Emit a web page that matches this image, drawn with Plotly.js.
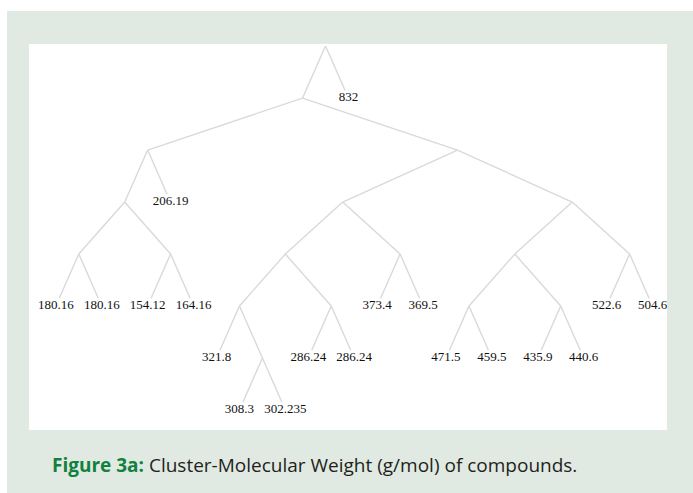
<!DOCTYPE html>
<html>
<head>
<meta charset="utf-8">
<script src="https://cdn.plot.ly/plotly-3.0.1.min.js"></script>
<style>
  html, body { margin: 0; padding: 0; background: #ffffff; }
  #wrap { position: absolute; left: 7px; top: 11px; width: 686px; height: 482px; }
</style>
</head>
<body>
<div id="wrap"></div>
<script>
// cluster tree: each node lists its parent, children appear in the order given (left to right)
var nodeIds =     ['root', 'A', 'w832', 'B', 'P', 'C', 'w206', 'D', 'E', 'a1', 'a2', 'e1', 'e2',
                   'J', 'O', 'H', 'I', 'K', 'G', 'k1', 'F', 'f1', 'f2', 'g1', 'g2', 'i1', 'i2',
                   'M', 'N', 'Q', 'R', 'q1', 'q2', 'r1', 'r2', 'n1', 'n2'];
var nodeParents = ['', 'root', 'root', 'A', 'A', 'B', 'B', 'C', 'C', 'D', 'D', 'E', 'E',
                   'P', 'P', 'J', 'J', 'H', 'H', 'K', 'K', 'F', 'F', 'G', 'G', 'I', 'I',
                   'O', 'O', 'M', 'M', 'Q', 'Q', 'R', 'R', 'N', 'N'];
// molecular weight (g/mol) shown at the leaves, '' for inner cluster nodes
var nodeLabels =  ['', '', '832', '', '', '', '206.19', '', '', '180.16', '180.16', '154.12', '164.16',
                   '', '', '', '', '', '', '321.8', '', '308.3', '302.235', '286.24', '286.24', '373.4', '369.5',
                   '', '', '', '', '471.5', '459.5', '435.9', '440.6', '522.6', '504.6'];

var children = {};
nodeIds.forEach(function (id) { children[id] = []; });
nodeIds.forEach(function (id, i) { if (nodeParents[i]) children[nodeParents[i]].push(id); });

// tidy tree layout (unit spacing between neighbours on a level)
var rel = {};
function tidy(id) {
  var kids = children[id];
  if (!kids.length) return { l: [0], r: [0] };
  var accL = null, accR = null, offs = [];
  kids.forEach(function (k) {
    var c = tidy(k);
    if (accL === null) { offs.push(0); accL = c.l.slice(); accR = c.r.slice(); return; }
    var s = -Infinity;
    for (var d = 0; d < Math.min(accR.length, c.l.length); d++) s = Math.max(s, accR[d] - c.l[d] + 1);
    offs.push(s);
    for (var d = 0; d < c.l.length; d++) {
      if (d < accL.length) accR[d] = c.r[d] + s;
      else { accL.push(c.l[d] + s); accR.push(c.r[d] + s); }
    }
  });
  var mid = (offs[0] + offs[offs.length - 1]) / 2;
  kids.forEach(function (k, i) { rel[k] = offs[i] - mid; });
  return { l: [0].concat(accL.map(function (v) { return v - mid; })),
           r: [0].concat(accR.map(function (v) { return v - mid; })) };
}
tidy('root');

var px = {}, depth = {};
nodeIds.forEach(function (id, i) {
  var p = nodeParents[i];
  px[id] = p ? px[p] + rel[id] : 0;
  depth[id] = p ? depth[p] + 1 : 0;
});

// edges, leaf edges stop short of the label
var ex = [], ey = [], lx = [], ly = [], lt = [];
nodeIds.forEach(function (id, i) {
  var p = nodeParents[i];
  if (!p) return;
  var t = children[id].length ? 1 : 0.85;
  ex.push(px[p], px[p] + (px[id] - px[p]) * t, null);
  ey.push(depth[p], depth[p] + t, null);
  if (nodeLabels[i]) { lx.push(px[id]); ly.push(depth[id]); lt.push(nodeLabels[i]); }
});

var edges = {
  x: ex, y: ey, mode: 'lines', type: 'scatter',
  line: { color: '#d9d9d9', width: 1.4 },
  hoverinfo: 'skip'
};
var labels = {
  x: lx, y: ly, text: lt, mode: 'text', type: 'scatter',
  textposition: 'middle center',
  textfont: { family: 'Liberation Serif, serif', size: 13, color: '#111111' },
  cliponaxis: true,
  hoverinfo: 'skip'
};

var layout = {
  width: 686, height: 482,
  margin: { l: 22, r: 26, t: 33, b: 63 },
  paper_bgcolor: '#e1eae2',
  plot_bgcolor: '#ffffff',
  showlegend: false,
  xaxis: { range: [-6.46, 7.44], visible: false, fixedrange: true },
  yaxis: { range: [7.385, -0.04], visible: false, fixedrange: true },
  annotations: [{
    xref: 'paper', yref: 'paper', x: 0.033, y: -0.09,
    xanchor: 'left', yanchor: 'middle', showarrow: false,
    text: '<b><span style="color:#12813f">Figure 3a:</span></b> Cluster-Molecular Weight (g/mol) of compounds.',
    font: { family: 'Open Sans, sans-serif', size: 19, color: '#231f20' }
  }]
};

Plotly.newPlot('wrap', [edges, labels], layout, { displayModeBar: false, staticPlot: true });
</script>
</body>
</html>
